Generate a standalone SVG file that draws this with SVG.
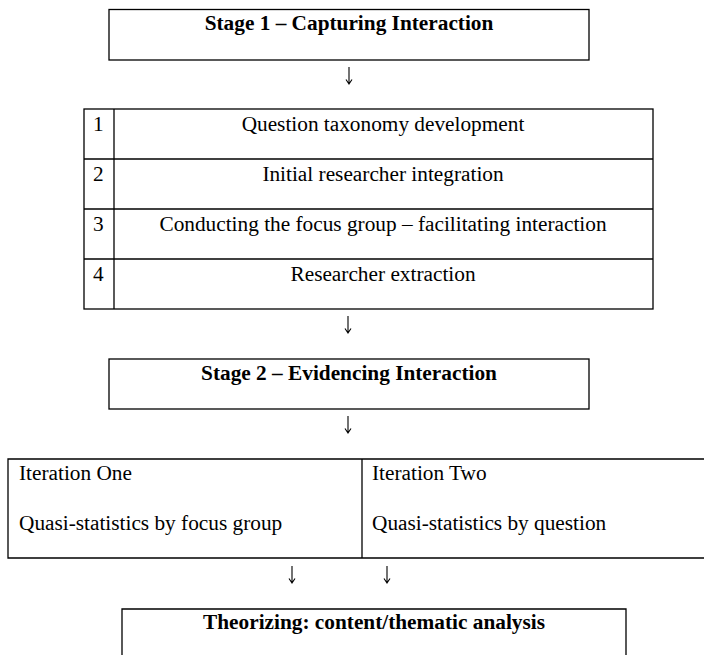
<svg xmlns="http://www.w3.org/2000/svg" width="704" height="655" viewBox="0 0 704 655">
<style>
.box{fill:#fff;stroke:#000;stroke-width:1.3}
.ln{stroke:#000;stroke-width:1.3;fill:none}
.t{font-family:"Liberation Serif","Times New Roman",serif;font-size:21.3px;fill:#000}
.b{font-weight:bold}
.m{text-anchor:middle}
.arr{stroke:#000;stroke-width:1.1;fill:none}
</style>
<rect width="704" height="655" fill="#fff"/>
<g id="stage1">
<rect class="box" x="109" y="9.5" width="480" height="50.5"/>
<text class="t b m" x="349" y="30">Stage 1 – Capturing Interaction</text>
</g>
<g id="steps">
<rect class="box" x="84" y="109" width="569" height="200"/>
<line class="ln" x1="114" y1="109" x2="114" y2="309"/>
<line class="ln" x1="84" y1="159" x2="653" y2="159"/>
<line class="ln" x1="84" y1="209" x2="653" y2="209"/>
<line class="ln" x1="84" y1="259" x2="653" y2="259"/>
<text class="t" x="93" y="131">1</text>
<text class="t m" x="383" y="131">Question taxonomy development</text>
<text class="t" x="93" y="181">2</text>
<text class="t m" x="383" y="181">Initial researcher integration</text>
<text class="t" x="93" y="231">3</text>
<text class="t m" x="383" y="231">Conducting the focus group – facilitating interaction</text>
<text class="t" x="93" y="281">4</text>
<text class="t m" x="383" y="281">Researcher extraction</text>
</g>
<g id="stage2">
<rect class="box" x="109" y="359" width="480" height="50"/>
<text class="t b m" x="349" y="380">Stage 2 – Evidencing Interaction</text>
</g>
<g id="iterations">
<path class="ln" d="M704 459 H8 V558 H704"/>
<line class="ln" x1="362" y1="459" x2="362" y2="558"/>
<text class="t" x="19" y="480">Iteration One</text>
<text class="t" x="19" y="530">Quasi-statistics by focus group</text>
<text class="t" x="372" y="480">Iteration Two</text>
<text class="t" x="372" y="530">Quasi-statistics by question</text>
</g>
<g id="theorizing">
<path class="ln" d="M122 655 V609 H626 V655"/>
<text class="t b m" x="374" y="629">Theorizing: content/thematic analysis</text>
</g>
<g id="connectors">
<path class="arr" d="M349 67 V84 M346 79.5 L349 84 L352 79.5"/>
<path class="arr" d="M348 316 V333 M345 328.5 L348 333 L351 328.5"/>
<path class="arr" d="M348 416 V433 M345 428.5 L348 433 L351 428.5"/>
<path class="arr" d="M292 566 V583 M289 578.5 L292 583 L295 578.5"/>
<path class="arr" d="M387 566 V583 M384 578.5 L387 583 L390 578.5"/>
</g>
</svg>
